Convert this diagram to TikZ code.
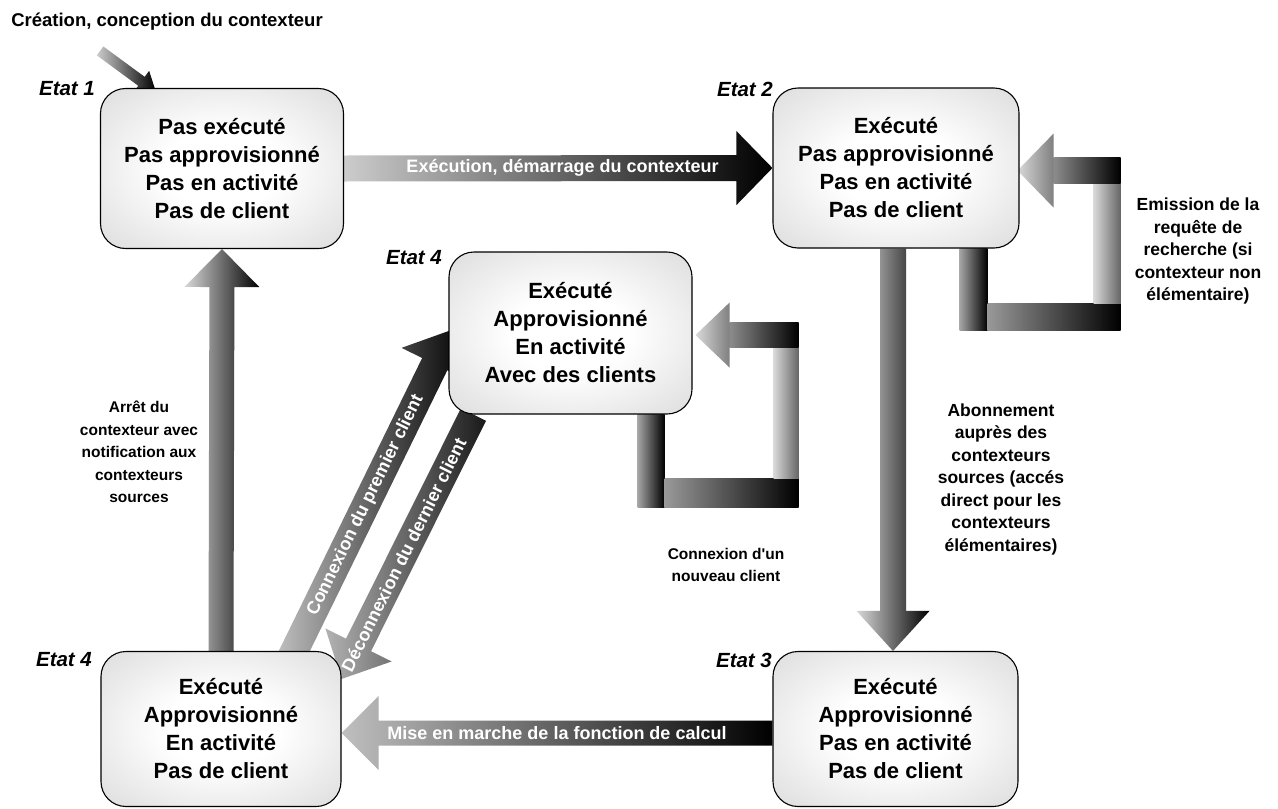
\documentclass[tikz,border=0pt]{standalone}
\usepackage{fontspec}
\setmainfont{Liberation Sans}
\usetikzlibrary{calc}
\pgfdeclarelayer{bg}
\pgfsetlayers{bg,main}
\definecolor{boxmid}{HTML}{C8C8C8}
\definecolor{boxcorner}{HTML}{A0A0A0}
\pgfdeclareradialshading{boxshade}{\pgfpoint{0bp}{0bp}}{color(0bp)=(white); color(12bp)=(white); color(50bp)=(boxmid); color(72bp)=(boxcorner)}
\tikzset{
  state/.style={draw=black, line width=1.1pt, rounded corners=25pt, shade, shading=boxshade,
    minimum width=243pt, minimum height=160pt, align=center, inner sep=0pt,
    font=\bfseries\fontsize{22}{28}\selectfont},
  etat/.style={font=\bfseries\itshape\fontsize{20.5}{24}\selectfont, inner sep=0pt},
  lbl/.style={font=\bfseries\fontsize{15.5}{22.5}\selectfont, align=center, inner sep=0pt},
  lblbig/.style={font=\bfseries\fontsize{17.5}{22.5}\selectfont, align=center, inner sep=0pt},
  arrtext/.style={text=white, font=\bfseries\fontsize{18}{20}\selectfont, inner sep=0pt},
  grad/.style 2 args={left color=#1, right color=#2},
}
\newcommand\blkarrow[6]{%
  \coordinate (hbase) at ($(#3)!#6!(#2)$);
  \shade[#1] ($(#2)!#4!90:(#3)$) -- ($(hbase)!#4!90:(#3)$) -- ($(hbase)!#5!90:(#3)$) -- (#3)
    -- ($(hbase)!#5!-90:(#3)$) -- ($(hbase)!#4!-90:(#3)$) -- ($(#2)!#4!-90:(#3)$) -- cycle;
}
\begin{document}
\begin{tikzpicture}[x=1pt,y=-1pt]
\useasboundingbox (0,0) rectangle (1278,809);
\begin{pgfonlayer}{bg}
  \fill[white] (0,0) rectangle (1278,809);
\end{pgfonlayer}

% states
\node[state] (e1) at (222,168.5) {Pas exécuté\\Pas approvisionné\\Pas en activité\\Pas de client};
\node[state, minimum width=246pt] (e2) at (896,168) {Exécuté\\Pas approvisionné\\Pas en activité\\Pas de client};
\node[state, minimum height=162pt] (e4m) at (570.5,333) {Exécuté\\Approvisionné\\En activité\\Avec des clients};
\node[state, minimum width=240pt, minimum height=155pt] (e4b) at (221,729) {Exécuté\\Approvisionné\\En activité\\Pas de client};
\node[state, minimum width=245pt, minimum height=155pt] (e3) at (895.5,729) {Exécuté\\Approvisionné\\Pas en activité\\Pas de client};

% state labels
\node[etat] (l1) at (67,89) {Etat 1};
\node[etat] (l2) at (745,89) {Etat 2};
\node[etat] (l4m) at (414,258) {Etat 4};
\node[etat] (l4b) at (64,660) {Etat 4};
\node[etat] (l3) at (744,660) {Etat 3};

% text labels
\node[font=\bfseries\fontsize{18.5}{22}\selectfont, inner sep=0pt] (cr) at (167,22) {Création, conception du contexteur};
\node[lbl] (t1) at (139,452) {Arrêt du\\contexteur avec\\notification aux\\contexteurs\\sources};
\node[lbl] (t2) at (726,565) {Connexion d\textquotesingle un\\nouveau client};
\node[lblbig] (t3) at (1001,479) {Abonnement\\auprès des\\contexteurs\\sources (accés\\direct pour les\\contexteurs\\élémentaires)};
\node[lblbig] (t4) at (1198,251) {Emission de la\\requête de\\recherche (si\\contexteur non\\élémentaire)};

% connectors (behind the states)
\begin{pgfonlayer}{bg}
  % creation
  \coordinate (crs) at ($(cr.south west)+(89,20)$);
  \coordinate (cre) at ($(e1.north west)+(56,4)$);
  \blkarrow{grad={black!20}{black}}{crs}{cre}{5.5pt}{13pt}{18pt}
  % execution
  \blkarrow{grad={black!20}{black}}{e1.east}{e2.west}{13pt}{37pt}{36pt}
  \path (e1.east) -- (e2.west) node[arrtext, pos=0.51] (x1) {Exécution, démarrage du contexteur};
  % mise en marche
  \coordinate (m1) at ($(e3.west)+(0,4)$);
  \coordinate (m2) at ($(e4b.east)+(0,4)$);
  \blkarrow{grad={black!25}{black}}{m1}{m2}{12.5pt}{37pt}{37pt}
  \path (m1) -- (m2) node[arrtext, pos=0.5] (x2) {Mise en marche de la fonction de calcul};
  % arret
  \blkarrow{grad={black!15}{black}}{e4b.north}{e1.south}{12.5pt}{37.5pt}{38pt}
  % abonnement
  \coordinate (a1) at ($(e2.south)+(-3,0)$);
  \coordinate (a2) at ($(e3.north)+(-2.5,0)$);
  \blkarrow{grad={black!15}{black}}{a1}{a2}{13pt}{36.5pt}{40pt}
  % connexion du premier client
  \coordinate (c1s) at ($(e4b.north west)+(189,10)$);
  \coordinate (c1e) at ($(e4m.west)+(3,-3)$);
  \blkarrow{grad={black!25}{black}}{c1s}{c1e}{14pt}{37pt}{38pt}
  \path (c1s) -- (c1e) node[arrtext, pos=0.47, sloped] (x3) {Connexion du premier client};
  % deconnexion du dernier client
  \coordinate (c2s) at ($(e4m.south west)+(25,0)$);
  \coordinate (c2e) at ($(e4b.north east)+(0,28)$);
  \blkarrow{grad={black!30}{black!90}}{c2s}{c2e}{14pt}{37pt}{38pt}
  \path (c2s) -- (c2e) node[arrtext, pos=0.53, sloped] (x4) {Déconnexion du dernier client};
  % self loop on Etat 2
  \begin{scope}[shift={(e2.south east)}]
    \shade[grad={black!35}{black}] (-60,0) rectangle (-32,82);
    \shade[grad={black!40}{black}] (-32,55) rectangle (101,82);
    \shade[grad={black!15}{black!60}] (74,-65) rectangle (101,55);
    \shade[grad={black!45}{black}] (34,-91) rectangle (101,-65);
    \shade[grad={black!15}{black!50}] (-2,-78) -- (34,-115) -- (34,-41) -- cycle;
  \end{scope}
  % self loop on Etat 4
  \begin{scope}[shift={(e4m.south east)}]
    \shade[grad={black!35}{black}] (-55,0) rectangle (-28,93);
    \shade[grad={black!40}{black}] (-28,64) rectangle (106,93);
    \shade[grad={black!15}{black!60}] (81,-67) rectangle (106,64);
    \shade[grad={black!45}{black}] (37,-92) rectangle (106,-67);
    \shade[grad={black!15}{black!50}] (3,-79.5) -- (37,-112) -- (37,-47) -- cycle;
  \end{scope}
\end{pgfonlayer}
\end{tikzpicture}
\end{document}
